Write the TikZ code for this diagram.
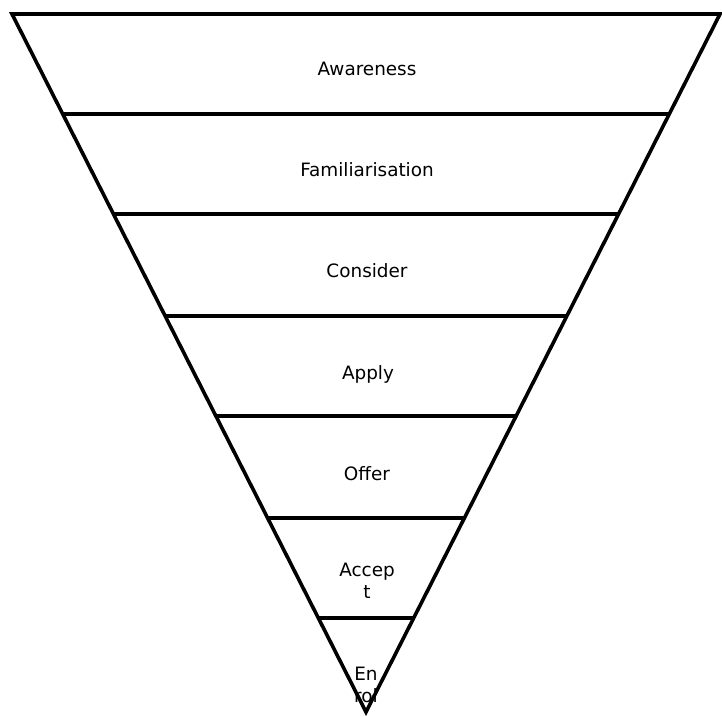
\documentclass[tikz,border=0pt]{standalone}
\usepackage{fontspec}
\setmainfont{DejaVu Sans}
\usetikzlibrary{calc}
\begin{document}
\begin{tikzpicture}[x=1pt,y=-1pt,
  stage/.style={anchor=base,inner sep=0pt,align=center,
    font=\fontsize{18.4}{21.5}\selectfont},
  funnel/.style={line width=3.6pt,line join=miter}]
\useasboundingbox (0,0) rectangle (722,716);
% outer triangle corners
\coordinate (tl) at (12,14);
\coordinate (tr) at (720,14);
\coordinate (apex) at (366,712);
% stage labels (placed by baseline of the last line)
\node[stage] (awareness) at (367,75) {Awareness};
\node[stage] (familiar) at (367,176) {Familiarisation};
\node[stage] (consider) at (367,277) {Consider};
\node[stage] (apply) at (368,379) {Apply};
\node[stage] (offer) at (367,480) {Offer};
\node[stage] (accept) at (367,598) {Accep\\t};
\node[stage] (enrol) at (366,702) {En\\rol};
% dividers between the stages
\foreach \t [count=\i] in {0.143266,0.286533,0.432665,0.575931,0.722063,0.865330}{
  \coordinate (l\i) at ($(tl)!\t!(apex)$);
  \coordinate (r\i) at ($(tr)!\t!(apex)$);
  \draw[funnel] (l\i) -- (r\i);
}
% funnel outline
\draw[funnel] (tl) -- (tr) -- (apex) -- cycle;
\end{tikzpicture}
\end{document}
